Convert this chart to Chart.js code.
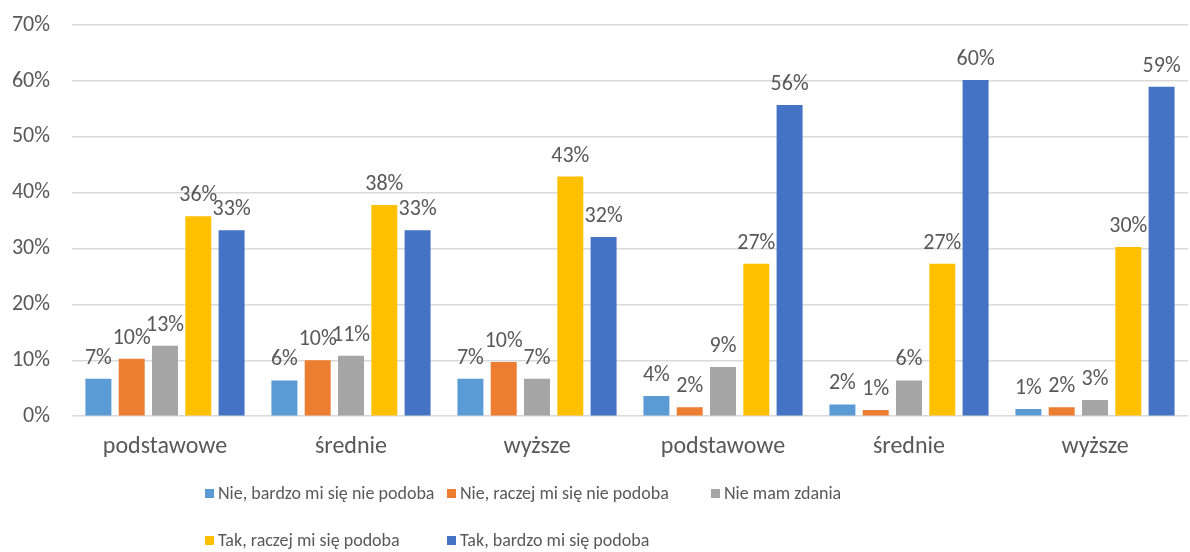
<!DOCTYPE html>
<html>
<head>
<meta charset="utf-8">
<script src="https://cdn.jsdelivr.net/npm/chart.js@4"></script>
<style>
    body { margin: 0; background: #fff; }
    #wrap { position: relative; width: 1190px; height: 552px; overflow: hidden; }
    #chart { position: absolute; left: 0; top: -10px; }
    #legend {
        position: absolute; left: 205px; top: 480px;
        display: grid; grid-template-columns: 242px 264px auto;
        row-gap: 21px;
        font-family: Carlito, Lato, "Open Sans", sans-serif;
        font-size: 18px; color: #595959;
    }
    .item { display: flex; align-items: center; height: 26px; white-space: nowrap; }
    .box { width: 9px; height: 9px; margin-right: 4px; }
</style>
</head>
<body>
<div id="wrap">
    <canvas id="chart" width="1190" height="552"></canvas>
    <div id="legend"></div>
</div>
<script>
const categories = ["podstawowe", "średnie", "wyższe", "podstawowe", "średnie", "wyższe"];
const seriesNames = [
    "Nie, bardzo mi się nie podoba",
    "Nie, raczej mi się nie podoba",
    "Nie mam zdania",
    "Tak, raczej mi się podoba",
    "Tak, bardzo mi się podoba"
];
const nieBardzo = [6.7, 6.4, 6.7, 3.6, 2.1, 1.3];
const nieRaczej = [10.3, 10.0, 9.7, 1.6, 1.1, 1.6];
const nieMam = [12.6, 10.8, 6.7, 8.8, 6.4, 2.9];
const takRaczej = [35.8, 37.8, 42.9, 27.3, 27.3, 30.3];
const takBardzo = [33.3, 33.3, 32.1, 55.7, 60.2, 59.0];
const colors = ["#5B9BD5", "#ED7D31", "#A5A5A5", "#FFC000", "#4472C4"];
const yMax = 70;
const yStep = 10;

const font = "Carlito, Lato, 'Open Sans', sans-serif";
const textColor = "#595959";

const allSeries = [nieBardzo, nieRaczej, nieMam, takRaczej, takBardzo];

const barLabels = {
    id: "barLabels",
    afterDatasetsDraw(chart) {
        const ctx = chart.ctx;
        ctx.save();
        ctx.font = "22px " + font;
        ctx.fillStyle = textColor;
        ctx.textAlign = "center";
        ctx.textBaseline = "alphabetic";
        chart.data.datasets.forEach((ds, i) => {
            chart.getDatasetMeta(i).data.forEach((bar, j) => {
                ctx.fillText(Math.round(ds.data[j]) + "%", bar.x, bar.y - 15);
            });
        });
        ctx.restore();
    }
};

new Chart(document.getElementById("chart"), {
    type: "bar",
    data: {
        labels: categories,
        datasets: allSeries.map((d, i) => ({
            label: seriesNames[i],
            data: d,
            backgroundColor: colors[i],
            barPercentage: 0.78,
            categoryPercentage: 0.895
        }))
    },
    options: {
        responsive: false,
        animation: false,
        layout: { padding: { top: 14, right: 2, bottom: 65, left: 0 } },
        plugins: {
            legend: { display: false },
            tooltip: { enabled: false }
        },
        scales: {
            x: {
                grid: { display: false, drawTicks: false },
                border: { display: false },
                ticks: { color: textColor, font: { family: font, size: 24 }, padding: 16 }
            },
            y: {
                min: 0,
                max: yMax,
                afterFit: s => { s.width = 72; },
                grid: { color: "#d9d9d9", lineWidth: 1.5, drawTicks: false },
                border: { display: false },
                ticks: {
                    stepSize: yStep,
                    color: textColor,
                    font: { family: font, size: 22 },
                    padding: 22,
                    callback: v => v + "%"
                }
            }
        }
    },
    plugins: [barLabels]
});

const legend = document.getElementById("legend");
seriesNames.forEach((name, i) => {
    const item = document.createElement("div");
    item.className = "item";
    item.innerHTML = '<span class="box" style="background:' + colors[i] + '"></span>' + name;
    legend.appendChild(item);
});
</script>
</body>
</html>
